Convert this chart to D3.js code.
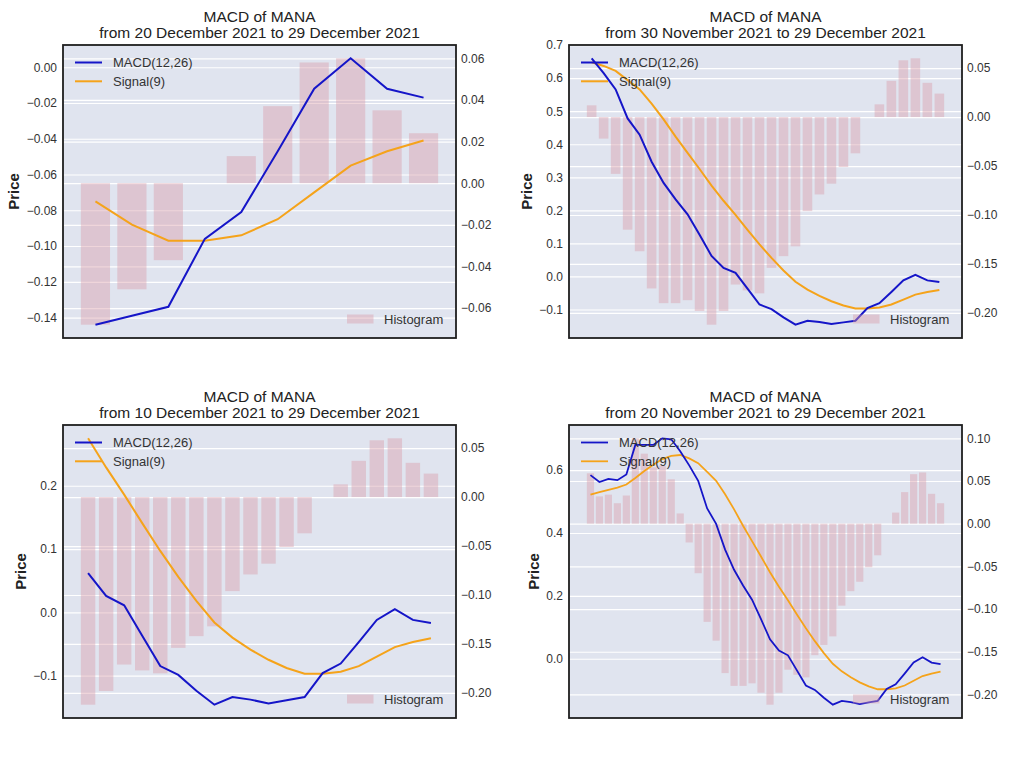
<!DOCTYPE html>
<html>
<head>
<meta charset="utf-8">
<script src="https://cdn.jsdelivr.net/npm/d3@7"></script>
<style>
    body { margin: 0; background: #fff; }
    svg { font-family: "Liberation Sans", Arial, sans-serif; }
</style>
</head>
<body>
<div id="chart"></div>
<script>
// daily dates, 20 Nov 2021 .. 29 Dec 2021
const dates = [
    "2021-11-20", "2021-11-21", "2021-11-22", "2021-11-23", "2021-11-24",
    "2021-11-25", "2021-11-26", "2021-11-27", "2021-11-28", "2021-11-29",
    "2021-11-30", "2021-12-01", "2021-12-02", "2021-12-03", "2021-12-04",
    "2021-12-05", "2021-12-06", "2021-12-07", "2021-12-08", "2021-12-09",
    "2021-12-10", "2021-12-11", "2021-12-12", "2021-12-13", "2021-12-14",
    "2021-12-15", "2021-12-16", "2021-12-17", "2021-12-18", "2021-12-19",
    "2021-12-20", "2021-12-21", "2021-12-22", "2021-12-23", "2021-12-24",
    "2021-12-25", "2021-12-26", "2021-12-27", "2021-12-28", "2021-12-29"
];

const macd = [
    0.584, 0.562, 0.572, 0.568, 0.586, 0.680, 0.680, 0.680, 0.701, 0.698,
    0.660, 0.615, 0.566, 0.478, 0.429, 0.347, 0.283, 0.233, 0.188, 0.126,
    0.062, 0.026, 0.011, -0.037, -0.085, -0.099, -0.124, -0.146, -0.134, -0.138,
    -0.144, -0.139, -0.134, -0.096, -0.081, -0.047, -0.012, 0.005, -0.012, -0.017
];

const signal = [
    0.522, 0.530, 0.537, 0.544, 0.554, 0.575, 0.597, 0.617, 0.635, 0.645,
    0.648, 0.637, 0.622, 0.594, 0.566, 0.523, 0.475, 0.423, 0.374, 0.325,
    0.275, 0.229, 0.186, 0.141, 0.097, 0.056, 0.018, -0.016, -0.040, -0.059,
    -0.075, -0.088, -0.097, -0.097, -0.094, -0.085, -0.070, -0.055, -0.047, -0.041
];

const hist = [
    0.059, 0.032, 0.034, 0.024, 0.033, 0.100, 0.082, 0.066, 0.068, 0.052,
    0.012, -0.022, -0.058, -0.115, -0.137, -0.175, -0.190, -0.190, -0.187, -0.198,
    -0.212, -0.198, -0.171, -0.177, -0.180, -0.154, -0.142, -0.132, -0.096, -0.079,
    -0.068, -0.051, -0.037, 0.000, 0.013, 0.037, 0.058, 0.060, 0.035, 0.024
];

// window start index into the series, and the number of days shown
const windowStarts = [30, 10, 20, 0];
const windowDays = [10, 30, 20, 40];

// tick values per panel
const leftTicks = [
    [-0.14, -0.12, -0.10, -0.08, -0.06, -0.04, -0.02, 0.00],
    [-0.1, 0.0, 0.1, 0.2, 0.3, 0.4, 0.5, 0.6, 0.7],
    [-0.1, 0.0, 0.1, 0.2],
    [0.0, 0.2, 0.4, 0.6]
];
const leftFormats = [".2f", ".1f", ".1f", ".1f"];
const rightTicks = [
    [-0.06, -0.04, -0.02, 0.00, 0.02, 0.04, 0.06],
    [-0.20, -0.15, -0.10, -0.05, 0.00, 0.05],
    [-0.20, -0.15, -0.10, -0.05, 0.00, 0.05],
    [-0.20, -0.15, -0.10, -0.05, 0.00, 0.05, 0.10]
];

const W = 393, H = 293;
const origins = [[63, 45], [569, 45], [63, 425], [569, 425]];
const barColor = "#d89ca8";

const parseDate = d3.timeParse("%Y-%m-%d");
const fmtDate = d3.timeFormat("%-d %B %Y");

const svg = d3.select("#chart").append("svg")
    .attr("width", 1013)
    .attr("height", 760);

svg.append("rect").attr("width", 1013).attr("height", 760).attr("fill", "#fff");

function gridStyle(sel) {
    sel.select(".domain").remove();
    sel.selectAll(".tick line").attr("stroke", "#fff").attr("stroke-width", 1.2);
}

function labelStyle(sel) {
    sel.select(".domain").remove();
    sel.selectAll(".tick text")
        .attr("fill", "#333")
        .style("font-size", "12px")
        .style("font-family", "Liberation Sans, Arial, sans-serif");
}

origins.forEach((o, k) => {
    const start = windowStarts[k], n = windowDays[k];
    const idx = d3.range(start, start + n);
    const m = idx.map(i => macd[i]);
    const s = idx.map(i => signal[i]);
    const h = idx.map(i => hist[i]);

    // x like matplotlib: bar edges plus 5% margins
    const lo = -0.4, hi = n - 1 + 0.4, xp = (hi - lo) * 0.05;
    const x = d3.scaleLinear().domain([lo - xp, hi + xp]).range([0, W]);

    const [a, b] = d3.extent(m.concat(s));
    const yp = (b - a) * 0.05;
    const y = d3.scaleLinear().domain([a - yp, b + yp]).range([H, 0]);

    const [c, d] = d3.extent(h.concat([0]));
    const rp = (d - c) * 0.05;
    const y2 = d3.scaleLinear().domain([c - rp, d + rp]).range([H, 0]);

    const g = svg.append("g").attr("transform", `translate(${o[0]},${o[1]})`);

    g.append("rect").attr("width", W).attr("height", H).attr("fill", "#e0e4ef");

    // gridlines for both y axes
    g.append("g")
        .call(d3.axisLeft(y).tickValues(leftTicks[k]).tickSize(-W).tickFormat(""))
        .call(gridStyle);
    g.append("g")
        .attr("transform", `translate(${W},0)`)
        .call(d3.axisRight(y2).tickValues(rightTicks[k]).tickSize(-W).tickFormat(""))
        .call(gridStyle);

    // histogram
    g.selectAll(".bar")
        .data(h)
        .join("rect")
        .attr("class", "bar")
        .attr("x", (v, j) => x(j - 0.4))
        .attr("width", x(0.8) - x(0))
        .attr("y", v => y2(Math.max(0, v)))
        .attr("height", v => Math.abs(y2(v) - y2(0)))
        .attr("fill", barColor)
        .attr("fill-opacity", 0.42);

    const line = d3.line().x((v, j) => x(j)).y(v => y(v));
    const lw = n > 30 ? 1.8 : 2;

    g.append("path").datum(s)
        .attr("d", line)
        .attr("fill", "none")
        .attr("stroke", "#f5a31a")
        .attr("stroke-width", lw);

    g.append("path").datum(m)
        .attr("d", line)
        .attr("fill", "none")
        .attr("stroke", "#1515c8")
        .attr("stroke-width", lw);

    // frame
    g.append("rect").attr("width", W).attr("height", H)
        .attr("fill", "none").attr("stroke", "#1e1e1e").attr("stroke-width", 1.8);

    // tick labels
    const la = g.append("g")
        .call(d3.axisLeft(y).tickValues(leftTicks[k]).tickSize(0).tickPadding(6)
            .tickFormat(d3.format(leftFormats[k])))
        .call(labelStyle);
    g.append("g")
        .attr("transform", `translate(${W},0)`)
        .call(d3.axisRight(y2).tickValues(rightTicks[k]).tickSize(0).tickPadding(5)
            .tickFormat(d3.format(".2f")))
        .call(labelStyle);

    // y label
    const bb = la.node().getBBox();
    g.append("text")
        .attr("transform", `translate(${bb.x - 7.5},${H / 2}) rotate(-90)`)
        .attr("text-anchor", "middle")
        .attr("fill", "#222")
        .style("font-size", "15px")
        .style("font-weight", "bold")
        .text("Price");

    // title
    const t = g.append("text")
        .attr("text-anchor", "middle")
        .attr("fill", "#222")
        .style("font-size", "15.5px");
    t.append("tspan").attr("x", W / 2).attr("y", -23.5).text("MACD of MANA");
    t.append("tspan").attr("x", W / 2).attr("y", -7.5)
        .text(`from ${fmtDate(parseDate(dates[start]))} to ${fmtDate(parseDate(dates[start + n - 1]))}`);

    // legends
    const leg = [["MACD(12,26)", "#1515c8"], ["Signal(9)", "#f5a31a"]];
    leg.forEach((e, r) => {
        const yy = 17.5 + r * 18.8;
        g.append("line")
            .attr("x1", 12).attr("x2", 39).attr("y1", yy).attr("y2", yy)
            .attr("stroke", e[1]).attr("stroke-width", lw);
        g.append("text")
            .attr("x", 50).attr("y", yy)
            .attr("dominant-baseline", "central")
            .attr("fill", "#333")
            .style("font-size", "13px")
            .text(e[0]);
    });
    g.append("rect")
        .attr("x", W - 109).attr("y", H - 23.5)
        .attr("width", 26.5).attr("height", 9)
        .attr("fill", barColor).attr("fill-opacity", 0.42);
    g.append("text")
        .attr("x", W - 72).attr("y", H - 19)
        .attr("dominant-baseline", "central")
        .attr("fill", "#333")
        .style("font-size", "13px")
        .text("Histogram");
});
</script>
</body>
</html>
